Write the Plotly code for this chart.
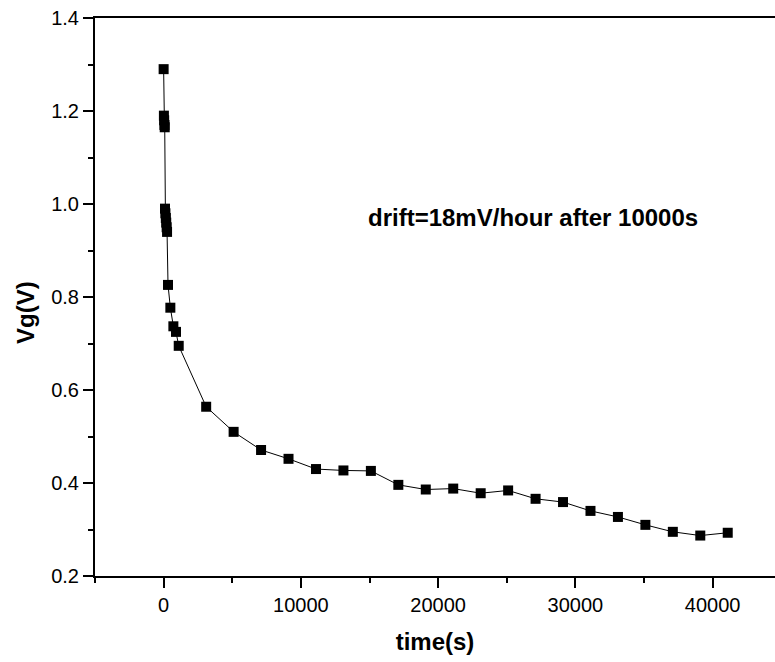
import plotly.graph_objects as go

# data
time_s = [0, 20, 40, 60, 80, 100, 130, 160, 190, 220, 250, 320, 490, 710, 900, 1100,
          3100, 5100, 7100, 9100, 11100, 13100, 15100, 17100, 19100, 21100, 23100,
          25100, 27100, 29100, 31100, 33100, 35100, 37100, 39100, 41100]
vg = [1.29, 1.19, 1.18, 1.17, 1.165, 0.99, 0.98, 0.97, 0.96, 0.95, 0.94, 0.826, 0.777,
      0.737, 0.725, 0.695, 0.564, 0.510, 0.471, 0.452, 0.430, 0.427, 0.426, 0.396, 0.386,
      0.388, 0.378, 0.384, 0.366, 0.359, 0.340, 0.327, 0.310, 0.295, 0.287, 0.293]
x_ticks = [0, 10000, 20000, 30000, 40000]
y_ticks = [0.2, 0.4, 0.6, 0.8, 1.0, 1.2, 1.4]
note = "drift=18mV/hour after 10000s"

FONT = "Liberation Sans, Arial, sans-serif"
L, R, T, B = 95, 0, 18, 86
W, H = 775, 662

fig = go.Figure()
fig.add_trace(go.Scatter(
    x=time_s, y=vg, mode="lines+markers",
    line=dict(color="black", width=1),
    marker=dict(symbol="square", size=10, color="black"),
    showlegend=False, cliponaxis=False,
))

fig.update_layout(
    width=W, height=H,
    margin=dict(l=L, r=R, t=T, b=B, autoexpand=False),
    paper_bgcolor="white", plot_bgcolor="white",
    font=dict(family=FONT, color="black", size=20),
    xaxis=dict(
        range=[-5000, 44544], automargin=False,
        tickvals=x_ticks, ticktext=[str(v) for v in x_ticks],
        ticks="outside", ticklen=10, tickwidth=2, tickcolor="black",
        minor=dict(dtick=5000, tick0=0, ticks="outside", ticklen=5, tickwidth=2, tickcolor="black"),
        showline=True, linewidth=2, linecolor="black", mirror=True,
        showgrid=False, zeroline=False,
        tickfont=dict(size=20),
        title=dict(text="time(s)", font=dict(size=24, weight="bold"), standoff=18),
    ),
    yaxis=dict(
        range=[0.2, 1.4], automargin=False,
        tickvals=y_ticks, ticktext=[f"{v:.1f}" for v in y_ticks],
        ticks="outside", ticklen=10, tickwidth=2, tickcolor="black",
        minor=dict(dtick=0.1, tick0=0.2, ticks="outside", ticklen=5, tickwidth=2, tickcolor="black"),
        showline=True, linewidth=2, linecolor="black", mirror=False,
        showgrid=False, zeroline=False,
        tickfont=dict(size=20),
    ),
)

pw, ph = W - L - R, H - T - B
def to_paper(px, py):
    return (px - L) / pw, (H - B - py) / ph

ax, ay = to_paper(533, 217)
tx, ty = to_paper(25, 313)
fig.add_annotation(text=note, x=ax, y=ay, xref="paper", yref="paper", showarrow=False,
                   xanchor="center", yanchor="middle", font=dict(size=24, weight="bold"))
fig.add_annotation(text="Vg(V)", x=tx, y=ty, xref="paper", yref="paper", showarrow=False,
                   xanchor="center", yanchor="middle", textangle=-90,
                   font=dict(size=24, weight="bold"))

fig.write_html(
    "out.html",
    config={"displayModeBar": False},
    post_script="document.body.style.margin='0';document.body.style.overflow='hidden';",
)
